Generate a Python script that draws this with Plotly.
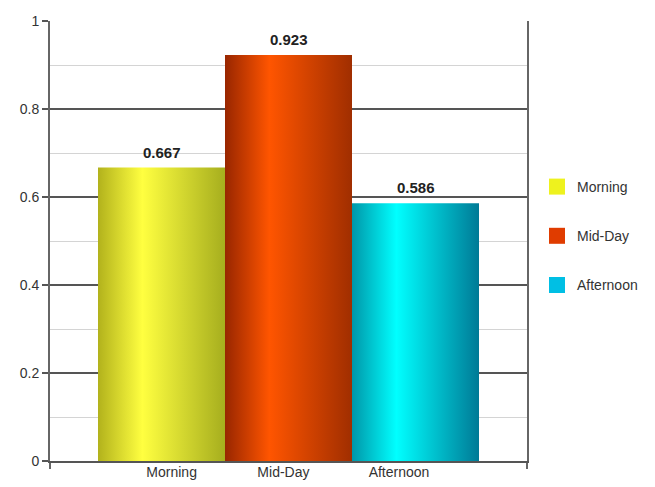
import plotly.graph_objects as go

# Series data
categories = ["Morning", "Mid-Day", "Afternoon"]
values = [0.667, 0.923, 0.586]
bar_positions = [1, 2, 3]
axis_labels = ["Morning", "Mid-Day", "Afternoon"]
axis_label_positions = [1.08, 1.96, 2.87]

# Horizontal shading for each bar (dark edge -> bright highlight -> dark edge)
gradients = [
    [[0, "#b2b21c"], [0.35, "#ffff40"], [1, "#a6ae1e"]],
    [[0, "#982600"], [0.35, "#ff5500"], [1, "#a02e00"]],
    [[0, "#0096a8"], [0.35, "#00ffff"], [1, "#007a96"]],
]
legend_colors = ["#eef21e", "#e03c00", "#00bfe4"]

BAR_WIDTH = 1.0
X_RANGE = [0.122, 3.878]
FONT = "Liberation Sans, Arial, sans-serif"

fig = go.Figure()

for name, pos, val, grad in zip(categories, bar_positions, values, gradients):
    x0, x1 = pos - BAR_WIDTH / 2, pos + BAR_WIDTH / 2
    fig.add_trace(go.Scatter(
        x=[x0, x1, x1, x0, x0],
        y=[0, 0, val, val, 0],
        mode="lines",
        fill="toself",
        fillgradient=dict(type="horizontal", colorscale=grad),
        line=dict(width=0),
        showlegend=False,
        hoverinfo="skip",
    ))

# Value labels above bars
for pos, val in zip(bar_positions, values):
    fig.add_annotation(
        x=pos, y=val,
        text=f"<b>{val:.3f}</b>",
        showarrow=False,
        yanchor="bottom",
        yshift=5,
        font=dict(family=FONT, size=15, color="#222"),
    )

# Legend entries
for i, (name, col) in enumerate(zip(categories, legend_colors)):
    fig.add_trace(go.Scatter(
        x=[None], y=[None],
        mode="markers",
        marker=dict(symbol="square", size=16, color=col),
        name=name,
        legendgroup=f"g{i}",
    ))

fig.update_layout(
    width=655,
    height=487,
    margin=dict(l=50, r=128, t=21, b=26, autoexpand=False),
    paper_bgcolor="white",
    plot_bgcolor="white",
    font=dict(family=FONT, size=14, color="#333"),
    showlegend=True,
    legend=dict(
        xref="container", yref="container",
        x=537 / 655, y=1 - 171 / 487, xanchor="left", yanchor="top",
        tracegroupgap=28,
        itemwidth=30,
        font=dict(family=FONT, size=14, color="#333"),
        bgcolor="rgba(0,0,0,0)",
    ),
    xaxis=dict(
        range=X_RANGE,
        automargin=False,
        tickmode="array",
        tickvals=axis_label_positions,
        ticktext=axis_labels,
        ticks="",
        ticklabelstandoff=-3,
        showgrid=False,
        zeroline=False,
        showline=True,
        linecolor="#555",
        linewidth=2,
        tickfont=dict(family=FONT, size=14, color="#333"),
        minor=dict(tickmode="array", tickvals=[X_RANGE[0], X_RANGE[1]],
                   ticks="outside", ticklen=6, tickcolor="#666", tickwidth=2),
        fixedrange=True,
    ),
    yaxis=dict(
        range=[0, 1],
        automargin=False,
        dtick=0.2,
        ticks="outside",
        ticklen=6,
        tickcolor="#555",
        tickwidth=1.5,
        showgrid=True,
        gridcolor="#555",
        gridwidth=1.5,
        zeroline=False,
        showline=True,
        linecolor="#666",
        linewidth=2,
        mirror=True,
        minor=dict(dtick=0.1, showgrid=True, gridcolor="#d4d4d4", gridwidth=1),
        tickfont=dict(family=FONT, size=14, color="#333"),
        fixedrange=True,
    ),
)

fig.write_html("out.html")
